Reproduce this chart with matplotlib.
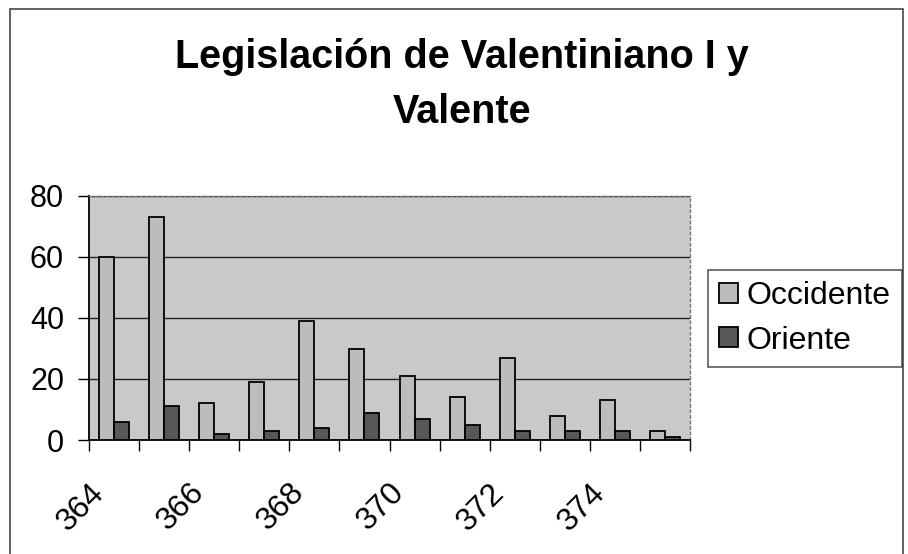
import matplotlib
matplotlib.use("Agg")
import matplotlib.pyplot as plt
import numpy as np
from matplotlib.patches import Rectangle
from matplotlib.transforms import ScaledTranslation

years = [364, 365, 366, 367, 368, 369, 370, 371, 372, 373, 374, 375]
occidente = [60, 73, 12, 19, 39, 30, 21, 14, 27, 8, 13, 3]
oriente = [6, 11, 2, 3, 4, 9, 7, 5, 3, 3, 3, 1]
tick_labels = ["364", "", "366", "", "368", "", "370", "", "372", "", "374", ""]
title_lines = ["Legislación de Valentiniano I y", "Valente"]

plt.rcParams['font.family'] = ['Liberation Sans', 'DejaVu Sans']

W, H = 908, 554
fig = plt.figure(figsize=(W / 100, H / 100), dpi=100)
fig.patch.set_facecolor('white')

# outer chart border
fig.add_artist(Rectangle((10 / W, -0.05), (903 - 10) / W, 1.05 - 9 / H,
                         transform=fig.transFigure, fill=False,
                         edgecolor='#555555', linewidth=1.3))

ax = fig.add_axes([89 / W, 1 - 440 / H, (690 - 89) / W, (440 - 196) / H])
ax.set_facecolor('#c9c9c9')

x = np.arange(len(years))
bw = 0.3
ax.bar(x - bw / 2, occidente, bw, color='#bcbcbc', edgecolor='black',
       linewidth=1.3, label='Occidente', zorder=3)
ax.bar(x + bw / 2, oriente, bw, color='#585858', edgecolor='black',
       linewidth=1.3, label='Oriente', zorder=3)

ax.set_xlim(-0.5, len(years) - 0.5)
ax.set_ylim(0, 80)
ax.set_yticks([0, 20, 40, 60, 80])
ax.yaxis.grid(True, color='#222222', linewidth=1.0, zorder=1)
ax.set_axisbelow(True)

ax.set_xticks(np.arange(len(years) + 1) - 0.5)
ax.set_xticklabels([])
ax.set_xticks(x, minor=True)
ax.set_xticklabels(tick_labels, minor=True, rotation=45, ha='right',
                   va='top', rotation_mode='anchor', fontsize=23)
ax.tick_params(axis='x', which='minor', length=0, pad=27)
ax.tick_params(axis='x', which='major', length=8, width=1, direction='out')
ax.tick_params(axis='y', length=8, width=1, direction='out', labelsize=22, pad=10)

shift = ScaledTranslation(-0.25, 0, fig.dpi_scale_trans)
for lbl in ax.get_xticklabels(minor=True):
    lbl.set_transform(lbl.get_transform() + shift)

for s in ['top', 'right']:
    ax.spines[s].set_color('#777777')
    ax.spines[s].set_linestyle((0, (2, 2)))
    ax.spines[s].set_linewidth(1.0)
for s in ['left', 'bottom']:
    ax.spines[s].set_color('black')
    ax.spines[s].set_linewidth(1.3)

leg = fig.legend(loc='upper left', bbox_to_anchor=(708 / W, 1 - 270 / H),
                 fontsize=23, frameon=True, fancybox=False, edgecolor='#333333',
                 handlelength=0.6, handleheight=0.6, handletextpad=0.25,
                 borderpad=0.35, labelspacing=0.45, borderaxespad=0)
leg.get_frame().set_linewidth(1.2)

fig.text(462 / W, 1 - 68 / H, title_lines[0], ha='center', va='baseline',
         fontsize=28.5, fontweight='bold')
fig.text(462 / W, 1 - 123 / H, title_lines[1], ha='center', va='baseline',
         fontsize=28.5, fontweight='bold')

fig.savefig('out.png', dpi=100)
